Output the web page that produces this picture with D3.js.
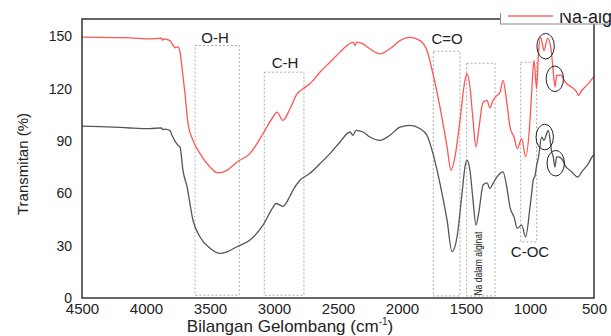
<!DOCTYPE html>
<html>
<head>
<meta charset="utf-8">
<script src="https://cdn.jsdelivr.net/npm/d3@7"></script>
<style>
  body { margin: 0; background: #fff; }
  svg { display: block; font-family: "Liberation Sans", Arial, sans-serif; }
</style>
</head>
<body>
<div id="chart"></div>
<script>
// FTIR spectra, wavenumber (cm-1) vs transmittance (%)
const naWave = [4500,4359,4203,4125,3969,3880,3870,3860,3813,3789,3773,3750,3734,3719,3695,3672,3633,3578,3500,3438,3367,3289,3188,3086,3008,2977,2930,2875,2820,2773,2719,2641,2563,2484,2430,2383,2367,2352,2305,2250,2172,2094,2016,1938,1859,1805,1758,1703,1648,1617,1586,1547,1508,1492,1469,1445,1422,1398,1367,1336,1313,1289,1258,1234,1211,1180,1156,1125,1099,1065,1034,1000,987,969,948,935,916,891,862,836,818,805,792,779,758,740,713,674,635,622,596,544,505,500];
const naTrans = [149.6,149.5,149.3,149.2,148.6,149.0,147.8,148.6,147.6,145.0,143.5,144.0,141.0,132.4,117.0,100.0,90.4,82.8,75.1,71.7,73.2,78.0,82.8,94.2,103.8,106.6,101.9,108.5,117.0,120.0,122.9,129.5,135.2,141.0,144.8,146.7,144.8,146.7,145.7,142.9,140.0,142.9,147.6,149.5,147.6,141.9,128.6,109.5,86.6,73.2,80.9,101.9,124.8,128.6,121.0,101.9,86.6,98.0,112.3,113.3,109.1,113.3,116.2,118.0,124.8,111.4,98.0,92.3,85.7,91.4,80.9,101.9,118.0,136.2,120.0,139.0,149.5,141.9,149.0,142.9,129.5,120.9,127.6,127.6,128.0,125.7,122.9,120.9,118.0,116.2,119.0,122.9,126.6,127.0];

const sampleWave = [4500,4359,4203,4125,3969,3880,3867,3852,3813,3797,3773,3750,3734,3711,3680,3633,3578,3500,3422,3367,3289,3188,3086,3008,2984,2930,2875,2852,2797,2719,2641,2563,2484,2406,2383,2359,2305,2250,2172,2094,2016,1938,1859,1805,1758,1703,1648,1609,1570,1531,1508,1492,1469,1445,1422,1398,1367,1336,1313,1289,1258,1211,1180,1156,1125,1099,1065,1034,1000,987,974,961,948,935,909,891,870,857,830,818,805,792,779,752,727,674,627,596,544,505,500];
const sampleTrans = [98.6,98.3,97.8,97.5,97.1,97.6,96.6,96.9,96.0,93.3,90.0,87.5,86.5,73.0,64.0,44.6,35.0,28.6,25.6,26.5,29.4,33.2,41.8,52.0,54.2,52.6,58.5,61.8,67.5,71.5,77.0,82.8,89.5,95.2,93.3,96.1,95.2,92.3,90.4,93.3,98.0,99.0,97.1,93.3,82.8,65.6,44.6,26.5,35.0,60.0,75.1,79.0,73.2,56.0,41.8,50.0,64.7,66.0,62.8,65.6,69.4,72.3,63.0,52.0,46.5,40.0,41.8,35.0,52.2,60.0,68.0,70.0,76.1,80.1,92.3,90.4,94.2,96.1,83.7,80.9,75.1,80.9,80.9,79.9,76.1,72.3,69.4,72.3,77.1,81.8,82.0];

const xTicks = [4500,4000,3500,3000,2500,2000,1500,1000,500];
const yTicks = [0,30,60,90,120,150];

// band boxes: [label, wave from, wave to, top value]
const boxLabels = ["O-H","C-H","C=O","Na dalam alginat","C-OC"];
const boxFrom = [3617,3076,1755,1495,1073];
const boxTo = [3271,2766,1547,1273,948];
const boxTop = [144.8,129.5,141.5,134.6,135.2];
const boxBottom = [1.6,1.6,1.2,1.2,32.2];

// circled peaks [wave, value]
const circleWave = [878,806,885,799];
const circleVal = [144.4,125.7,92.3,77.3];

const width = 611;
const height = 336;
const margin = { top: 19, right: 17, bottom: 38, left: 82 };

const svg = d3.select('#chart')
    .append('svg')
    .attr('width', width)
    .attr('height', height);

const x = d3.scaleLinear()
    .domain([4500, 500])
    .range([margin.left, width - margin.right]);

const y = d3.scaleLinear()
    .domain([0, 160])
    .range([height - margin.bottom, margin.top]);

// dotted boxes
svg.append('g')
    .selectAll('rect')
    .data(boxLabels)
    .join('rect')
    .attr('x', (d, i) => x(boxFrom[i]))
    .attr('y', (d, i) => y(boxTop[i]))
    .attr('width', (d, i) => x(boxTo[i]) - x(boxFrom[i]))
    .attr('height', (d, i) => y(boxBottom[i]) - y(boxTop[i]))
    .attr('fill', 'none')
    .attr('stroke', '#aaa')
    .attr('stroke-width', 1)
    .attr('stroke-dasharray', '2,2');

const line = d3.line()
    .x(d => x(d[0]))
    .y(d => y(d[1]))
    .curve(d3.curveMonotoneX);

svg.append('path')
    .datum(sampleWave.map((w, i) => [w, sampleTrans[i]]))
    .attr('d', line)
    .attr('fill', 'none')
    .attr('stroke', '#555')
    .attr('stroke-width', 1.3);

svg.append('path')
    .datum(naWave.map((w, i) => [w, naTrans[i]]))
    .attr('d', line)
    .attr('fill', 'none')
    .attr('stroke', '#ff5555')
    .attr('stroke-width', 1.3);

// labels for the bands
const labelWave = [3461, 2914, 1648, 1406, 1000];
const labelVal = [146.5, 131.9, 145.9, 1.4, 23.5];
svg.append('g')
    .selectAll('text')
    .data(boxLabels)
    .join('text')
    .attr('transform', (d, i) => i === 3
        ? `translate(${x(labelWave[i])},${y(labelVal[i])}) rotate(-90)`
        : `translate(${x(labelWave[i])},${y(labelVal[i])})`)
    .attr('text-anchor', (d, i) => i === 3 ? 'start' : 'middle')
    .attr('dy', (d, i) => i === 3 ? '0.35em' : 0)
    .attr('font-size', (d, i) => i === 3 ? '10px' : '15px')
    .attr('textLength', (d, i) => i === 3 ? 64 : null)
    .attr('lengthAdjust', 'spacingAndGlyphs')
    .attr('fill', '#222')
    .text(d => d);

svg.append('g')
    .selectAll('ellipse')
    .data(circleWave)
    .join('ellipse')
    .attr('cx', d => x(d))
    .attr('cy', (d, i) => y(circleVal[i]))
    .attr('rx', 8.7)
    .attr('ry', 12.8)
    .attr('fill', 'none')
    .attr('stroke', '#222')
    .attr('stroke-width', 1);

// frame
svg.append('rect')
    .attr('x', margin.left)
    .attr('y', margin.top)
    .attr('width', width - margin.left - margin.right)
    .attr('height', height - margin.top - margin.bottom)
    .attr('fill', 'none')
    .attr('stroke', '#333')
    .attr('stroke-width', 1.5);

function xAxis(g) {
    g.attr('transform', `translate(0, ${height - margin.bottom})`)
        .call(d3.axisBottom(x).tickValues(xTicks).tickSize(0).tickPadding(5).tickFormat(d3.format('d')))
        .attr('font-size', '15px')
        .attr('font-family', null);
    g.select('.domain').remove();
}
function yAxis(g) {
    g.attr('transform', `translate(${margin.left},0)`)
        .call(d3.axisLeft(y).tickValues(yTicks).tickSize(0).tickPadding(10))
        .attr('font-size', '14px')
        .attr('font-family', null);
    g.select('.domain').remove();
}
svg.append('g').call(xAxis);
svg.append('g').call(yAxis);
svg.selectAll('.tick text').attr('fill', '#222');

// axis titles
const xTitle = svg.append('text')
    .attr('x', 290)
    .attr('y', 332)
    .attr('text-anchor', 'middle')
    .attr('font-size', '17px')
    .attr('fill', '#222');
xTitle.append('tspan').text('Bilangan Gelombang (cm');
xTitle.append('tspan').attr('font-size', '10px').attr('dy', '-7').text('-1');
xTitle.append('tspan').attr('dy', '7').text(')');

svg.append('text')
    .attr('transform', 'translate(28,164) rotate(-90)')
    .attr('text-anchor', 'middle')
    .attr('font-size', '15px')
    .attr('fill', '#222')
    .text('Transmitan (%)');

// legend, partly cut off by the picture edge
svg.append('clipPath').attr('id', 'legclip')
    .append('rect').attr('x', 0).attr('y', 13).attr('width', width).attr('height', 30);
const leg = svg.append('g').attr('clip-path', 'url(#legclip)');
leg.append('rect')
    .attr('x', 500.5).attr('y', -10).attr('width', 140).attr('height', 34)
    .attr('fill', '#fff').attr('stroke', '#888').attr('stroke-width', 1);
leg.append('line')
    .attr('x1', 508).attr('x2', 553).attr('y1', 16).attr('y2', 16)
    .attr('stroke', '#ff6666').attr('stroke-width', 1.3);
leg.append('text')
    .attr('x', 559).attr('y', 23)
    .attr('font-size', '18px').attr('fill', '#222')
    .text('Na-alginat');
</script>
</body>
</html>
